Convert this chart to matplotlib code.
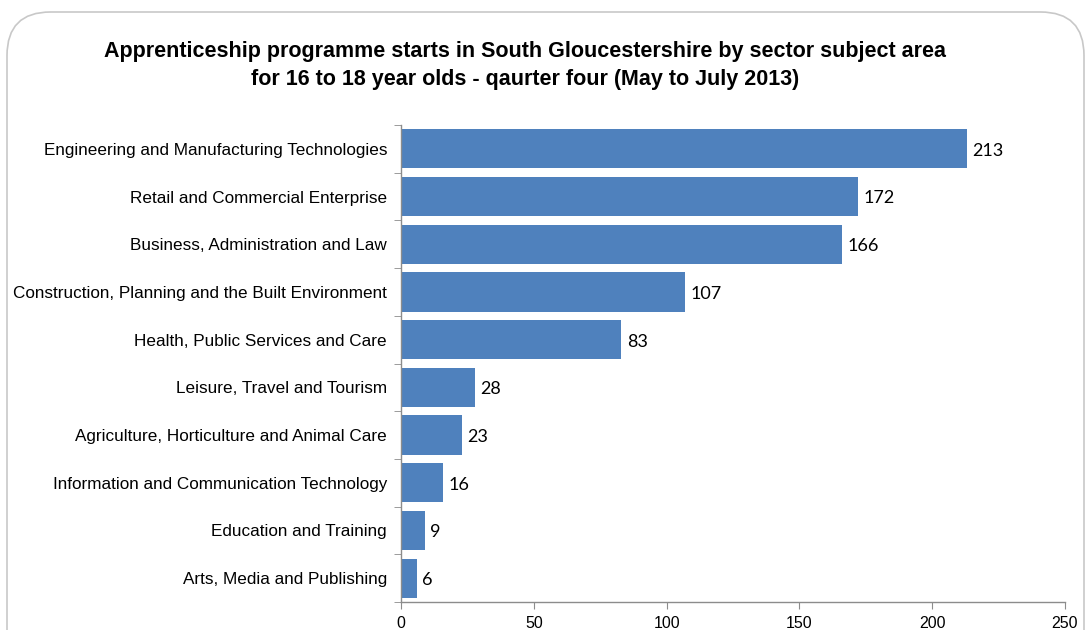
import matplotlib
matplotlib.use("Agg")
import matplotlib.pyplot as plt
from matplotlib.patches import FancyBboxPatch
import numpy as np

sectors = ["Engineering and Manufacturing Technologies",
           "Retail and Commercial Enterprise",
           "Business, Administration and Law",
           "Construction, Planning and the Built Environment",
           "Health, Public Services and Care",
           "Leisure, Travel and Tourism",
           "Agriculture, Horticulture and Animal Care",
           "Information and Communication Technology",
           "Education and Training",
           "Arts, Media and Publishing"]
starts = [213, 172, 166, 107, 83, 28, 23, 16, 9, 6]
xticks = [0, 50, 100, 150, 200, 250]

plt.rcParams['font.family'] = ['Liberation Sans', 'DejaVu Sans']

fig = plt.figure(figsize=(10.89, 6.3), dpi=100)
fig.patch.set_facecolor("white")

# rounded chart border
frame = FancyBboxPatch((7/1089, -0.1), 1077/1089, 1.1 - 12/630,
                       boxstyle="round,pad=0,rounding_size=0.04",
                       transform=fig.transFigure, facecolor="none",
                       edgecolor="#c8c8c8", linewidth=1.2, zorder=-1,
                       mutation_aspect=1089/630)
fig.patches.append(frame)

ax = fig.add_axes([401/1089, 28/630, 664/1089, 477/630])
ax.patch.set_alpha(0)

y = np.arange(len(sectors))
ax.barh(y, starts, height=0.82, color="#4F81BD", zorder=2)
ax.set_ylim(len(sectors) - 0.5, -0.5)
ax.set_xlim(0, 250)

for yi, v in zip(y, starts):
    ax.text(v + 2, yi + 0.04, str(v), va="center", ha="left", fontsize=13,
            family=["Lato", "DejaVu Sans"], color="#000000")

ax.set_yticks(y)
ax.set_yticklabels(sectors, fontsize=12.3)
ax.tick_params(axis="y", length=0, pad=10)
# category boundary tick marks
ax.set_yticks(np.arange(-0.5, len(sectors)), minor=True)
ax.tick_params(axis="y", which="minor", length=5, color="#8c8c8c", direction="out")

ax.set_xticks(xticks)
ax.set_xticklabels([str(t) for t in xticks], fontsize=11.5)
ax.tick_params(axis="x", length=5, color="#8c8c8c", direction="out", pad=5)

for s in ["top", "right"]:
    ax.spines[s].set_visible(False)
for s in ["left", "bottom"]:
    ax.spines[s].set_color("#8c8c8c")
    ax.spines[s].set_linewidth(1.0)

fig.text(525/1089, 1 - 52/630,
         "Apprenticeship programme starts in South Gloucestershire by sector subject area",
         ha="center", va="center", fontsize=15.5, fontweight="bold")
fig.text(525/1089, 1 - 80/630,
         "for 16 to 18 year olds - qaurter four (May to July 2013)",
         ha="center", va="center", fontsize=15.5, fontweight="bold")

fig.savefig("out.png", dpi=100)
